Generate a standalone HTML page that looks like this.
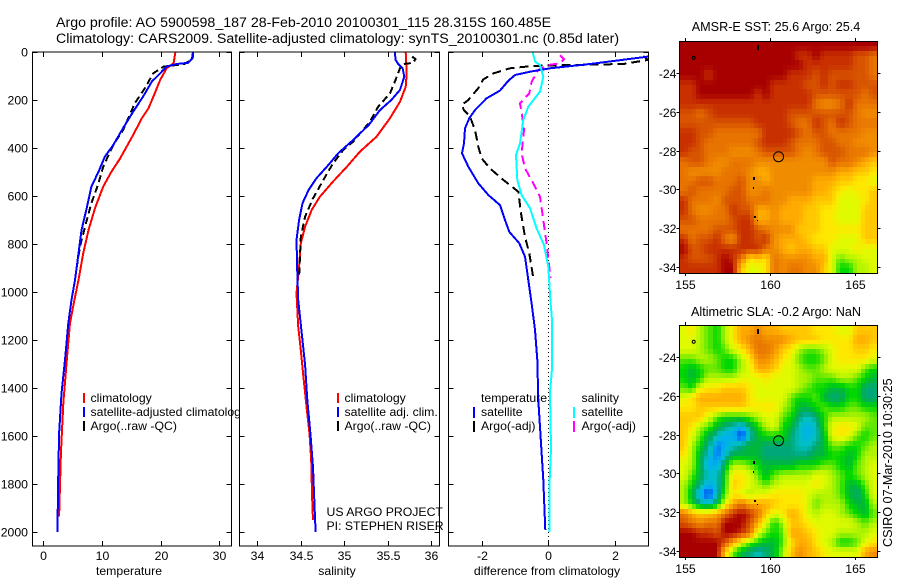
<!DOCTYPE html>
<html>
<head>
<meta charset="utf-8">
<title>Argo profile chart</title>
<style>
html,body{margin:0;padding:0;background:#fff;}
svg{display:block;}
text{font-family:"Liberation Sans",sans-serif;fill:#000;}
.t12{font-size:12.25px;}
.t14{font-size:14.2px;}
.tm{font-size:12.65px;}
</style>
</head>
<body>
<svg id="fig" xmlns="http://www.w3.org/2000/svg" width="900" height="580" viewBox="0 0 900 580">
<rect x="0" y="0" width="900" height="580" fill="#fff"/>
<text x="56" y="27" class="t14">Argo profile: AO 5900598_187 28-Feb-2010 20100301_115 28.315S 160.485E</text>
<text x="56" y="43" class="t14">Climatology: CARS2009. Satellite-adjusted climatology: synTS_20100301.nc (0.85d later)</text>

<g id="panelT">
<rect x="32.5" y="52" width="199" height="494" fill="#fff"/>
</g>
<g id="panelTLegend">
<rect x="83" y="393" width="2" height="10" fill="#f00"/>
<rect x="83" y="407" width="2" height="10" fill="#00f"/>
<rect x="83" y="421" width="2" height="10" fill="#000"/>
<text x="90.5" y="402" class="t12">climatology</text>
<text x="90.5" y="416" class="t12">satellite-adjusted climatology</text>
<text x="90.5" y="430" class="t12">Argo(..raw -QC)</text>
</g>

<g id="panelS">
<rect x="239.5" y="52" width="200" height="494" fill="#fff"/>
</g>
<g id="panelSLegend">
<rect x="337" y="393" width="2" height="10" fill="#f00"/>
<rect x="337" y="407" width="2" height="10" fill="#00f"/>
<rect x="337" y="421" width="2" height="10" fill="#000"/>
<text x="344.5" y="402" class="t12">climatology</text>
<text x="344.5" y="416" class="t12">satellite adj. clim.</text>
<text x="344.5" y="430" class="t12">Argo(..raw -QC)</text>
<text x="326.5" y="516" class="t12">US ARGO PROJECT</text>
<text x="326.5" y="530" class="t12">PI: STEPHEN RISER</text>
</g>

<g id="panelD">
<rect x="448.5" y="52" width="200" height="494" fill="#fff"/>
</g>
<g id="panelDLegend">
<text x="481" y="402" class="t12">temperature</text>
<rect x="473" y="407" width="2" height="11" fill="#00f"/>
<rect x="473" y="421" width="2" height="11" fill="#000"/>
<text x="481" y="416" class="t12">satellite</text>
<text x="481" y="430" class="t12">Argo(-adj)</text>
<text x="581.5" y="402" class="t12">salinity</text>
<rect x="573" y="407" width="2" height="11" fill="#0ff"/>
<rect x="573" y="421" width="2" height="11" fill="#f0f"/>
<text x="581.5" y="416" class="t12">satellite</text>
<text x="581.5" y="430" class="t12">Argo(-adj)</text>
</g>

<g id="mapA"></g>
<g id="mapB"></g>

<text x="776" y="31" text-anchor="middle" class="tm">AMSR-E SST: 25.6 Argo: 25.4</text>
<text x="776" y="316" text-anchor="middle" class="tm">Altimetric SLA: -0.2 Argo: NaN</text>
<text transform="translate(892,547) rotate(-90)" class="tm">CSIRO 07-Mar-2010 10:30:25</text>
</svg>

<script>
// ---------- chart data ----------
const depthTicks = [0,200,400,600,800,1000,1200,1400,1600,1800,2000];
const tempTicks = [0,10,20,30];
const salTicks = [34,34.5,35,35.5,36];
const salTickLabels = ['34','34.5','35','35.5','36'];
const diffTicks = [-2,0,2];
const lonTicks = [155,160,165];
const latTicks = [-24,-26,-28,-30,-32,-34];

const tempClimDepth = [0,47,68,117,172,235,276,346,443,499,561,651,742,839,950,1033,1130,1283,1464,1672,1935];
const tempClimValue = [22.5,22.2,21,19.9,19,17.9,16.8,15.3,13.1,11.6,10.2,8.8,7.7,6.8,6,5.3,4.55,4,3.4,3,2.7];
const tempSatDepth = [0,25,45,50,61,89,123,186,249,317,388,436,499,561,651,742,839,950,1033,1130,1283,1422,1589,1755,2000];
const tempSatValue = [25.55,25.45,24.7,22.7,21,19.9,18.5,17,15.3,13.6,11.9,10.5,9.4,8.2,7.4,6.5,6,5.4,4.8,4.26,3.7,3.1,2.7,2.55,2.4];
const tempArgoDepth = [0,33,50,61,89,151,213,325,388,478,547,630,728,811,895];
const tempArgoValue = [25.5,25.3,24,20.5,18.7,17.3,15.6,13.6,11.9,10.2,9.4,8.2,7.1,6.25,5.7];

const salClimDepth = [0,89,145,207,276,353,415,478,540,603,658,728,797,895,1005,1144,1242,1353,1492,1589,1700,1854,1950];
const salClimValue = [35.706,35.717,35.706,35.64,35.525,35.37,35.18,35.03,34.87,34.72,34.625,34.55,34.5,34.48,34.45,34.47,34.5,34.53,34.57,34.6,34.62,34.63,34.64];
const salSatDepth = [0,33,50,68,103,158,200,242,304,367,422,478,526,575,630,700,783,921,1033,1171,1304,1450,1589,1729,1867,2000];
const salSatValue = [35.58,35.59,35.62,35.67,35.69,35.64,35.54,35.41,35.28,35.1,34.93,34.8,34.68,34.59,34.52,34.48,34.45,34.46,34.47,34.51,34.55,34.575,34.61,34.64,34.655,34.67];
const salArgoDepth = [19,30,45,50,68,124,172,228,290,374,408,464,533,610,686,770,936];
const salArgoValue = [35.78,35.82,35.79,35.68,35.64,35.58,35.525,35.39,35.295,35.1,34.99,34.87,34.76,34.64,34.55,34.5,34.48];

const diffTSatDepth = [19,50,68,82,96,120,161,193,242,276,318,380,422,478,547,596,638,700,749,797,853,950,1047,1158,1283,1450,1603,1783,1992];
const diffTSatValue = [3,1.25,0.05,-0.55,-1,-1.2,-1.45,-1.85,-2.2,-2.37,-2.5,-2.53,-2.59,-2.4,-2.1,-1.8,-1.45,-1.3,-1.17,-0.87,-0.7,-0.6,-0.5,-0.4,-0.33,-0.3,-0.23,-0.15,-0.09];
const diffSSatDepth = [0,40,54,103,165,228,283,381,429,533,596,651,735,804,895,1047,1117,1319,1417,1653,1819,2000];
const diffSSatValue = [-0.47,-0.4,-0.25,-0.15,-0.25,-0.6,-0.75,-0.85,-0.97,-0.93,-0.8,-0.55,-0.35,-0.13,0,0.07,0.11,0.11,0.05,0.08,0.03,0.03];
const diffTArgoDepth = [17,33,50,54,58,68,89,114,151,200,221,242,269,325,394,443,485,533,582,672,770,839,942];
const diffTArgoValue = [2.85,3,2.25,0.75,-0.45,-1.15,-1.65,-1.95,-2.1,-2.4,-2.6,-2.53,-2.35,-2.2,-2.1,-2,-1.75,-1.35,-0.9,-0.82,-0.7,-0.57,-0.45];
const diffSArgoDepth = [13,30,47,54,75,124,172,214,249,325,422,485,547,603,700,797,942];
const diffSArgoValue = [0.35,0.47,0.35,0,-0.3,-0.5,-0.57,-0.85,-0.8,-0.73,-0.8,-0.7,-0.45,-0.25,-0.15,-0.05,0.07];

// Map values: colour-level index per half-degree sample, north to south, west to east
const sstGrid = [
[0,0,0,0,0,0,0,0,0,0,0,0,0,0,0,0,0,0,0,0,0,0,0,0],
[0,0,0,0,0,0,0,0,0,0,0,0,0,0,1,1,0,1,1,1,1,2,2,3],
[0,0,0,0,0,0,0,0,0,0,0,0,0,0,0,1,1,1,1,1,1,2,2,3],
[0,0,0,1,0,0,0,0,0,0,0,0,0,1,1,1,2,1,2,2,2,2,2,3],
[1,1,0,0,0,0,0,0,0,0,0,1,1,1,1,2,2,1,2,1,1,2,2,2],
[1,1,0,0,0,0,0,0,0,1,0,1,1,1,1,1,2,2,2,2,2,2,3,2],
[1,1,1,1,1,1,1,1,1,1,1,1,1,1,1,1,3,4,4,3,1,3,3,3],
[2,2,3,2,1,1,1,1,1,1,1,1,1,2,2,2,2,2,2,2,2,3,4,4],
[2,2,2,2,2,2,2,2,2,1,1,1,1,2,3,3,1,2,3,1,2,3,3,3],
[1,1,2,2,3,3,3,3,3,3,1,1,1,1,2,3,2,2,3,3,3,3,4,4],
[1,1,2,3,3,3,3,3,3,2,1,1,1,2,3,3,3,2,2,3,3,4,4,4],
[1,2,2,3,3,3,4,4,4,3,2,2,2,2,3,4,3,2,2,2,3,3,3,4],
[3,2,2,3,4,4,3,3,3,4,4,4,4,4,4,4,4,4,2,3,3,4,5,6],
[3,4,4,4,4,3,3,3,4,5,5,4,4,4,4,4,4,4,4,5,5,6,6,7],
[3,3,2,2,3,3,3,2,4,4,5,4,4,4,4,4,5,5,5,6,6,7,7,8],
[3,2,3,3,3,3,2,2,4,4,3,4,4,4,4,4,5,5,6,7,8,7,7,6],
[1,3,3,3,4,2,2,2,3,3,3,4,4,5,5,5,6,6,6,8,8,8,7,6],
[1,3,4,4,3,3,1,2,2,5,5,4,5,5,5,6,6,7,7,8,8,8,6,6],
[2,2,3,3,3,3,2,1,1,5,5,4,5,5,5,6,6,7,7,8,8,8,6,6],
[3,3,3,3,2,2,2,1,1,2,3,4,4,4,6,6,6,7,7,7,7,7,6,6],
[1,3,2,2,1,3,4,1,1,2,1,4,5,5,5,6,7,7,7,8,8,8,6,6],
[0,2,2,1,1,1,1,1,1,1,3,4,5,6,5,5,6,6,8,8,8,7,8,8],
[1,2,2,2,1,0,1,3,7,6,7,3,4,4,4,4,5,5,8,10,9,9,8,8],
[1,1,1,1,1,0,0,6,8,8,7,3,4,3,3,4,4,6,8,11,11,9,9,8]
];
const slaGrid = [
[8,7,9,10,11,9,7,5,5,4,5,5,6,6,6,6,7,7,7,8,8,6,6,6],
[8,8,9,10,11,9,7,5,4,3,4,4,4,5,6,6,6,7,7,7,7,5,5,6],
[8,8,9,10,11,10,8,7,5,3,3,4,6,7,9,10,10,9,8,7,7,6,6,7],
[10,10,9,9,10,11,11,9,7,4,4,5,7,8,10,11,11,10,8,7,7,7,7,8],
[11,12,11,10,10,11,11,9,8,5,5,6,8,8,9,10,10,9,8,8,8,8,10,11],
[11,12,11,9,9,9,9,8,8,8,7,8,8,8,9,9,10,10,10,9,9,10,11,12],
[10,11,8,7,7,6,6,6,7,8,8,8,8,8,9,10,11,11,12,12,11,11,13,13],
[8,7,5,5,5,5,5,5,7,8,8,8,8,10,11,11,10,12,13,13,11,11,13,13],
[7,7,6,6,6,6,6,6,7,7,7,7,9,10,12,12,11,10,11,11,10,10,11,11],
[6,6,6,8,10,11,11,11,10,9,8,8,10,11,13,14,13,11,9,9,9,9,9,10],
[6,7,9,10,12,13,14,15,13,11,9,8,11,12,14,15,14,11,8,7,7,8,10,10],
[6,8,10,12,14,15,15,17,14,12,11,11,11,13,14,15,14,12,8,7,8,10,11,10],
[6,9,11,13,16,15,14,13,12,12,13,13,13,13,14,14,13,12,10,10,11,11,10,9],
[7,9,12,14,16,14,12,12,12,12,13,13,13,13,13,13,12,12,11,11,12,11,9,9],
[8,9,12,15,15,12,9,9,10,11,12,12,12,12,11,11,11,10,10,11,12,10,9,8],
[8,10,12,14,14,11,7,7,8,10,12,10,9,9,9,9,8,8,9,10,11,10,9,8],
[9,11,13,15,14,11,6,7,8,9,10,9,8,8,8,8,7,8,9,10,12,12,10,8],
[9,12,15,17,14,10,7,8,9,8,8,7,7,7,7,8,9,9,9,10,12,13,11,8],
[9,11,13,14,12,8,5,3,5,5,5,6,7,7,7,8,10,9,9,9,11,12,12,9],
[3,5,6,6,5,3,1,0,1,3,6,8,7,5,6,8,9,8,8,9,10,11,12,10],
[2,3,4,3,3,0,0,0,2,5,8,11,9,6,6,7,8,8,8,8,8,9,10,9],
[0,0,1,1,2,0,0,1,3,8,10,11,10,5,5,6,7,8,8,9,9,9,9,8],
[0,0,0,0,0,2,5,8,10,11,12,12,10,7,5,5,7,8,9,11,11,10,8,7],
[0,0,0,0,0,6,10,12,13,14,13,12,9,6,4,5,6,7,8,8,8,8,5,4]
];

// ---------- helpers ----------
const NS = 'http://www.w3.org/2000/svg';
function mk(tag, attrs, parent) {
  const el = document.createElementNS(NS, tag);
  for (const k in attrs) el.setAttribute(k, attrs[k]);
  parent.appendChild(el);
  return el;
}
const AX_TOP = 52, AX_BOTTOM = 546;
function yDepth(d) { return AX_TOP + d * 0.24; }
function xTemp(v) { return 43.3 + v * 5.87; }
function xSal(v) { return 257.3 + (v - 34) * 87; }
function xDiff(v) { return 548.3 + v * 33.33; }

function drawFrame(group, left, right, xTicks, xFn, xLabels, xTitle, xTitleCx, showY, groupName) {
  const frame = mk('rect', {x:left, y:AX_TOP, width:right-left, height:AX_BOTTOM-AX_TOP, fill:'none', stroke:'#000', 'stroke-width':1, 'shape-rendering':'crispEdges'}, group);
  
  
  depthTicks.forEach(function (d) {
    const y = Math.round(yDepth(d)) + 0.5;
    const tl = mk('line', {x1:left, x2:left+5, y1:y, y2:y, stroke:'#000', 'shape-rendering':'crispEdges'}, group);
    
    
    const tr = mk('line', {x1:right-5, x2:right, y1:y, y2:y, stroke:'#000', 'shape-rendering':'crispEdges'}, group);
    
    
    if (showY) {
      const lab = mk('text', {x:left-4.5, y:y+4, 'text-anchor':'end', class:'t12'}, group);
      lab.textContent = String(d);
      
      
    }
  });
  xTicks.forEach(function (t, i) {
    const x = Math.round(xFn(t)) + 0.5;
    const tt = mk('line', {x1:x, x2:x, y1:AX_TOP, y2:AX_TOP+5, stroke:'#000', 'shape-rendering':'crispEdges'}, group);
    
    
    const tb = mk('line', {x1:x, x2:x, y1:AX_BOTTOM-5, y2:AX_BOTTOM, stroke:'#000', 'shape-rendering':'crispEdges'}, group);
    
    
    const lab = mk('text', {x:x, y:560, 'text-anchor':'middle', class:'t12'}, group);
    lab.textContent = xLabels[i];
    
    
  });
  const title = mk('text', {x:xTitleCx, y:575, 'text-anchor':'middle', class:'t12'}, group);
  title.textContent = xTitle;
  
  
}

function drawSeries(group, depths, values, xFn, color, dash, name, left, right) {
  const pts = depths.map(function (d, i) {
    const x = Math.max(left, Math.min(right, xFn(values[i])));
    return x.toFixed(1) + ',' + yDepth(d).toFixed(1);
  }).join(' ');
  const attrs = {points:pts, fill:'none', stroke:color, 'stroke-width':2, 'shape-rendering':'crispEdges', 'stroke-linejoin':'round'};
  if (dash) attrs['stroke-dasharray'] = dash;
  const line = mk('polyline', attrs, group);
  
  
}

// ---------- profile panels ----------
const gT = document.getElementById('panelT');
const gS = document.getElementById('panelS');
const gD = document.getElementById('panelD');

drawSeries(gT, tempClimDepth, tempClimValue, xTemp, '#f00', null, 'temperature-climatology-line', 33, 231);
drawSeries(gT, tempArgoDepth, tempArgoValue, xTemp, '#000', '7 4', 'temperature-argo-line', 33, 231);
drawSeries(gT, tempSatDepth, tempSatValue, xTemp, '#00f', null, 'temperature-satellite-line', 33, 231);
drawFrame(gT, 32.5, 231.5, tempTicks, xTemp, tempTicks.map(String), 'temperature', 129, true, 'temperature');

drawSeries(gS, salClimDepth, salClimValue, xSal, '#f00', null, 'salinity-climatology-line', 240, 439);
drawSeries(gS, salArgoDepth, salArgoValue, xSal, '#000', '7 4', 'salinity-argo-line', 240, 439);
drawSeries(gS, salSatDepth, salSatValue, xSal, '#00f', null, 'salinity-satellite-line', 240, 439);
drawFrame(gS, 239.5, 439.5, salTicks, xSal, salTickLabels, 'salinity', 337, false, 'salinity');

const zero = mk('line', {x1:548.5, x2:548.5, y1:AX_TOP, y2:AX_BOTTOM, stroke:'#000', 'stroke-dasharray':'1 3', 'shape-rendering':'crispEdges'}, gD);


drawSeries(gD, diffTArgoDepth, diffTArgoValue, xDiff, '#000', '9 5', 'difference-temperature-argo-line', 449, 648);
drawSeries(gD, diffSArgoDepth, diffSArgoValue, xDiff, '#f0f', '9 5', 'difference-salinity-argo-line', 449, 648);
drawSeries(gD, diffTSatDepth, diffTSatValue, xDiff, '#00f', null, 'difference-temperature-satellite-line', 449, 648);
drawSeries(gD, diffSSatDepth, diffSSatValue, xDiff, '#0ff', null, 'difference-salinity-satellite-line', 449, 648);
drawFrame(gD, 448.5, 648.5, diffTicks, xDiff, diffTicks.map(String), 'difference from climatology', 547, false, 'difference');

// ---------- maps ----------
const colorRamp = [[168,0,0],[200,48,0],[216,84,0],[232,116,0],[240,140,0],[255,170,0],[255,200,0],[255,232,0],[224,250,0],[180,244,0],[96,232,0],[0,216,0],[0,184,56],[0,168,120],[0,192,192],[0,176,240],[0,112,240],[0,48,224]];
const MAP_LEFT = 679.5, MAP_RIGHT = 877.5;
const SHADE_STEPS = 2;
function xLon(lon) { return 685.3 + (lon - 155) * 17; }
function colorFor(level) {
  const v = Math.max(0, Math.min(colorRamp.length - 1, level));
  const i = Math.min(colorRamp.length - 2, Math.floor(v));
  const f = v - i;
  const a = colorRamp[i], b = colorRamp[i + 1];
  return 'rgb(' + Math.round(a[0] + (b[0] - a[0]) * f) + ',' + Math.round(a[1] + (b[1] - a[1]) * f) + ',' + Math.round(a[2] + (b[2] - a[2]) * f) + ')';
}
function shadeAt(grid, u, v) {
  const maxC = grid[0].length - 1, maxR = grid.length - 1;
  const cu = Math.max(0, Math.min(maxC, u)), cv = Math.max(0, Math.min(maxR, v));
  const c0 = Math.floor(cu), r0 = Math.floor(cv);
  const c1 = Math.min(maxC, c0 + 1), r1 = Math.min(maxR, r0 + 1);
  const fu = cu - c0, fv = cv - r0;
  return (grid[r0][c0] * (1 - fu) + grid[r0][c1] * fu) * (1 - fv) + (grid[r1][c0] * (1 - fu) + grid[r1][c1] * fu) * fv;
}

function drawMap(group, grid, top, bottom, name) {
  function yLat(lat) { return top + 32.3 + (-lat - 24) * 19.33; }
  const nRows = grid.length * SHADE_STEPS, nCols = grid[0].length * SHADE_STEPS;
  const cw = (MAP_RIGHT - MAP_LEFT) / nCols, ch = (bottom - top) / nRows;
  for (let r = 0; r < nRows; r++) {
    for (let c = 0; c < nCols; c++) {
      const level = shadeAt(grid, (c + 0.5) / SHADE_STEPS - 0.5, (r + 0.5) / SHADE_STEPS - 0.5);
      const x0 = Math.round(MAP_LEFT + c * cw), x1 = Math.round(MAP_LEFT + (c + 1) * cw);
      const y0 = Math.round(top + r * ch), y1 = Math.round(top + (r + 1) * ch);
      const cell = mk('rect', {x:x0, y:y0, width:x1-x0, height:y1-y0, fill:colorFor(level), 'shape-rendering':'crispEdges'}, group);
      
      
    }
  }
  const frame = mk('rect', {x:MAP_LEFT, y:top+0.5, width:MAP_RIGHT-MAP_LEFT, height:bottom-top, fill:'none', stroke:'#000', 'shape-rendering':'crispEdges'}, group);
  
  
  lonTicks.forEach(function (lon) {
    const x = Math.round(xLon(lon)) + 0.5;
    const a = mk('line', {x1:x, x2:x, y1:top-3, y2:top, stroke:'#000', 'shape-rendering':'crispEdges'}, group);
    
    
    const b = mk('line', {x1:x, x2:x, y1:bottom, y2:bottom+3, stroke:'#000', 'shape-rendering':'crispEdges'}, group);
    
    
    const lab = mk('text', {x:x, y:bottom+16, 'text-anchor':'middle', class:'t12'}, group);
    lab.textContent = String(lon);
    
    
  });
  latTicks.forEach(function (lat) {
    const y = Math.round(yLat(lat)) + 0.5;
    const a = mk('line', {x1:MAP_LEFT-3, x2:MAP_LEFT, y1:y, y2:y, stroke:'#000', 'shape-rendering':'crispEdges'}, group);
    
    
    const b = mk('line', {x1:MAP_RIGHT, x2:MAP_RIGHT+3, y1:y, y2:y, stroke:'#000', 'shape-rendering':'crispEdges'}, group);
    
    
    const lab = mk('text', {x:MAP_LEFT-3, y:y+4.5, 'text-anchor':'end', class:'t12'}, group);
    lab.textContent = String(lat);
    
    
  });
  // coastline specks
  const specks = [[757,48,2,5],[753,180,2,3],[753,190,1,2],[754,219,2,2],[757,223,1,1]];
  specks.forEach(function (s) {
    const m = mk('rect', {x:s[0], y:s[1]-41+top-3, width:s[2], height:s[3], fill:'#000', 'shape-rendering':'crispEdges'}, group);
    
    
  });
  const islet = mk('circle', {cx:693.7, cy:top+16.7, r:1.5, fill:'none', stroke:'#000', 'stroke-width':1}, group);
  
  
  const marker = mk('circle', {cx:xLon(160.485), cy:yLat(-28.315), r:5, fill:'none', stroke:'#000', 'stroke-width':1}, group);
  
  
}
drawMap(document.getElementById('mapA'), sstGrid, 41, 273, 'sst-map');
drawMap(document.getElementById('mapB'), slaGrid, 325, 557, 'sla-map');
</script>
</body>
</html>
